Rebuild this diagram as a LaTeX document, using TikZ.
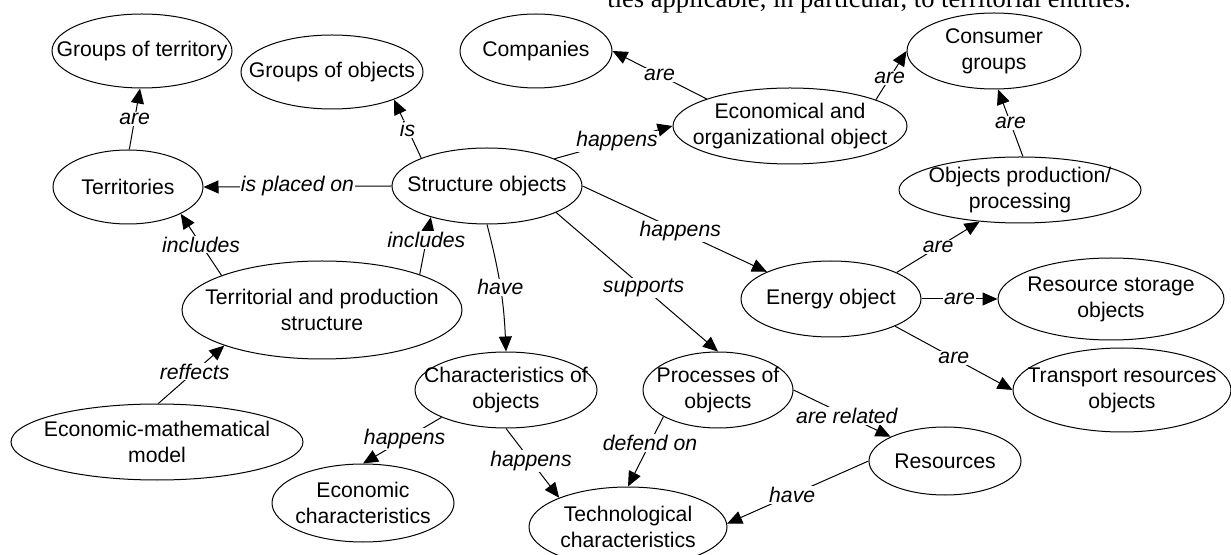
\documentclass[tikz,border=0pt]{standalone}
\usepackage{fontspec}
\setmainfont{Liberation Sans}
\newfontfamily\headserif{Liberation Serif}
\usepackage{tikz}
\usetikzlibrary{arrows.meta}
\usetikzlibrary{shapes}

\newcommand{\conceptfont}{\fontsize{10.6}{13}\selectfont}
\newcommand{\relfont}{\fontsize{10.6}{13}\selectfont\itshape}

\tikzset{
  concept/.style 2 args={ellipse, draw=black, line width=0.5pt, inner sep=0pt,
    minimum width=#1pt, minimum height=#2pt},
  ctext/.style={align=center, inner sep=0pt, font=\conceptfont},
  rel/.style={fill=white, inner sep=0.5pt, font=\relfont},
  arr/.style={draw=black, line width=0.5pt, -{Triangle[length=7.5pt,width=6.5pt]}}
}

\begin{document}
\begin{tikzpicture}[x=0.5pt, y=-0.5pt]
    \useasboundingbox (0,0) rectangle (1231,555);
    \clip (0,0) rectangle (1231,555);

    % text of the page above the figure
    \node[anchor=base west, inner sep=0pt, font=\headserif\fontsize{13.25}{15}\selectfont] (header) at (607,8)
        {ties applicable, in particular, to territorial entities.};

    % concepts
    \node[concept={90}{37}, label={[ctext]center:Groups of territory}] (grter) at (142,51) {};
    \node[concept={91}{37}, label={[ctext]center:Groups of objects}] (grobj) at (332,72) {};
    \node[concept={75}{37}, label={[ctext]center:Territories}] (terr) at (128,187) {};
    \node[concept={95}{38}, label={[ctext]center:Structure objects}] (struct) at (487,186) {};
    \node[concept={76}{37}, label={[ctext]center:Companies}] (comp) at (536,51) {};
    \node[concept={117}{38}, label={[ctext]center:Economical and\\organizational object}] (econorg) at (790,126) {};
    \node[concept={87}{38}, label={[ctext]center:Consumer\\groups}] (consum) at (994,51) {};
    \node[concept={121}{33}, label={[ctext]center:Objects production/\\processing}] (prod) at (1020,190) {};
    \node[concept={90}{38}, label={[ctext]center:Energy object}] (energy) at (831,299) {};
    \node[concept={113}{41}, label={[ctext]center:Resource storage\\objects}] (storage) at (1111,299) {};
    \node[concept={109}{42}, label={[ctext]center:Transport resources\\objects}] (transp) at (1122,390) {};
    \node[concept={76}{34}, label={[ctext]center:Resources}] (resour) at (945,461) {};
    \node[concept={75}{38}, label={[ctext]center:Processes of\\objects}] (proc) at (718,390) {};
    \node[concept={99}{40}, label={[ctext]center:Technological\\characteristics}] (techn) at (628,527) {};
    \node[concept={91}{38}, label={[ctext]center:Characteristics of\\objects}] (charob) at (506,390) {};
    \node[concept={91}{39}, label={[ctext]center:Economic\\characteristics}] (econch) at (363,503) {};
    \node[concept={146}{38}, label={[ctext]center:Economic-mathematical\\model}] (model) at (157,442) {};
    \node[concept={140}{49}, label={[ctext]center:Territorial and production\\structure}] (terprod) at (322,310) {};

    % relations
    \draw[arr] (terr.88) -- node[rel] {are} (grter.267);
    \draw[arr] (struct.157) -- node[rel] {is} (grobj.336);
    \draw[arr] (struct.west) -- node[rel] {is placed on} (terr.east);
    \draw[arr] (terprod.161) -- node[rel] {includes} (terr.333);
    \draw[arr] (terprod.20) -- node[rel, pos=0.6] {includes} (struct.209);
    \draw[arr] (model.88) -- node[rel, pos=0.55] {reffects} (terprod.200);
    \draw[arr] (struct.south) to[bend left=6] node[rel] {have} (charob.north);
    \draw[arr] (struct.339) -- node[rel, pos=0.54] {supports} (proc.north);
    \draw[arr] (struct.east) -- node[rel, pos=0.53] {happens} (energy.157);
    \draw[arr] (struct.22) -- node[rel, pos=0.53] {happens} (econorg.west);
    \draw[arr] (econorg.162) -- node[rel] {are} (comp.east);
    \draw[arr] (econorg.17) -- node[rel, pos=0.45] {are} (consum.west);
    \draw[arr] (prod.85) -- node[rel] {are} (consum.276);
    \draw[arr] (energy.22) -- node[rel] {are} (prod.218);
    \draw[arr] (energy.east) -- node[rel] {are} (storage.west);
    \draw[arr] (energy.337) -- node[rel] {are} (transp.west);
    \draw[arr] (proc.east) -- node[rel, pos=0.55] {are related} (resour.156);
    \draw[arr] (proc.206) -- node[rel, pos=0.38] {defend on} (techn.north);
    \draw[arr] (resour.west) -- node[rel, pos=0.54] {have} (techn.2);
    \draw[arr] (charob.203) -- node[rel, pos=0.47] {happens} (econch.north);
    \draw[arr] (charob.south) -- node[rel, pos=0.47] {happens} (techn.157);
\end{tikzpicture}
\end{document}
